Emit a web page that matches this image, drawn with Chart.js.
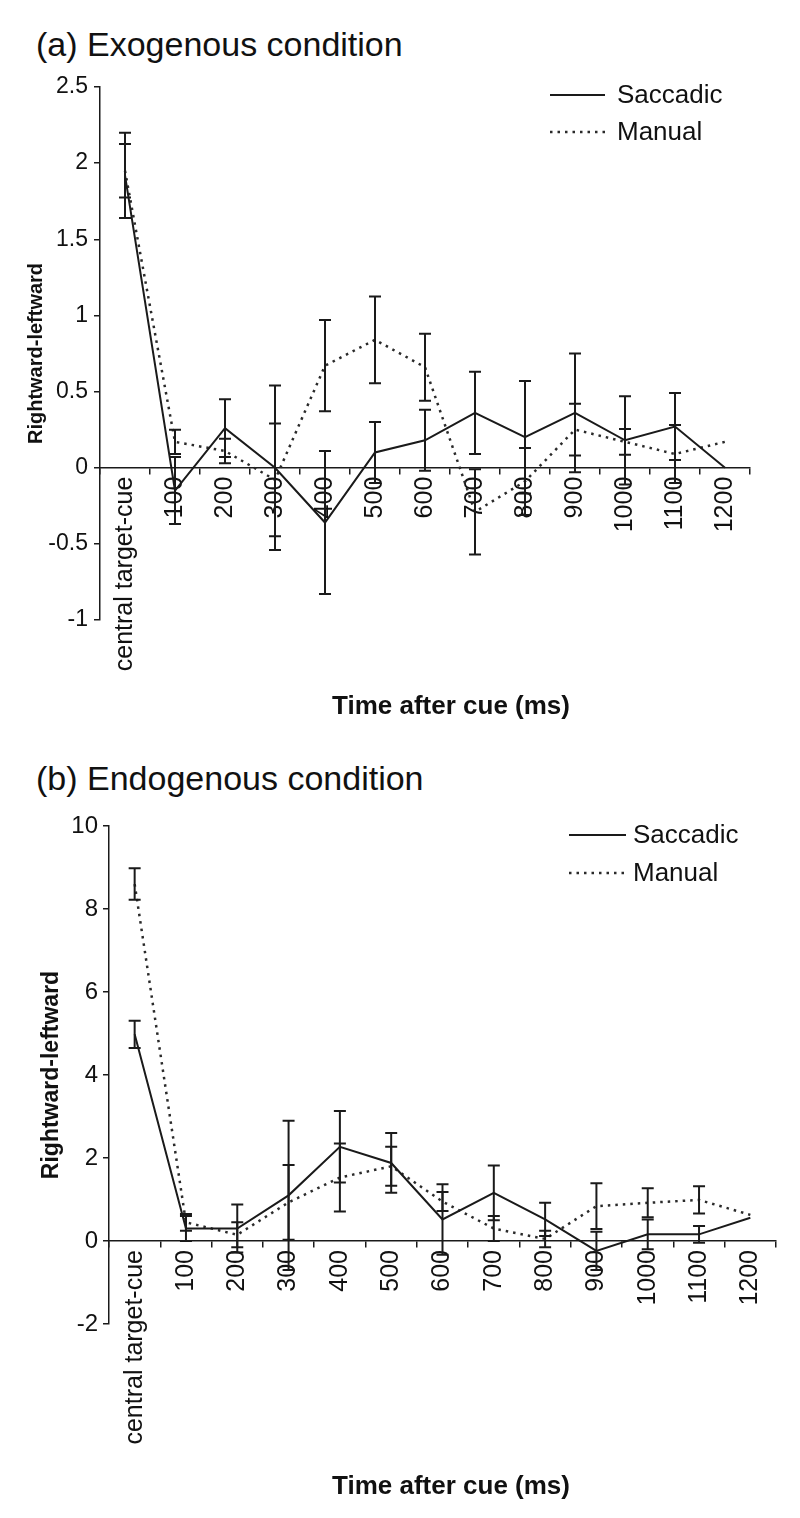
<!DOCTYPE html>
<html>
<head>
<meta charset="utf-8">
<script src="https://cdn.jsdelivr.net/npm/chart.js@4.4.1/dist/chart.umd.min.js"></script>
<style>
  body { margin: 0; background: #fff; width: 800px; height: 1518px; position: relative; overflow: hidden;
         font-family: "Liberation Sans", Arial, sans-serif; color: #111; }
  .panel-title { position: absolute; left: 36px; font-size: 34px; line-height: 1; white-space: nowrap; }
  .x-title { position: absolute; left: 451px; transform: translateX(-50%); font-size: 26px; font-weight: bold;
             line-height: 1; white-space: nowrap; }
  .box { position: absolute; left: 0; width: 800px; }
</style>
</head>
<body>

<div class="panel-title" style="top:27px">(a) Exogenous condition</div>
<div class="box" style="top:60px; height:660px"><canvas id="chartA"></canvas></div>
<div class="x-title" style="top:692px">Time after cue (ms)</div>

<div class="panel-title" style="top:761px">(b) Endogenous condition</div>
<div class="box" style="top:800px; height:680px"><canvas id="chartB"></canvas></div>
<div class="x-title" style="top:1472px">Time after cue (ms)</div>

<script>
/* ── DATA ── */
const categories = ['central target-cue', '100', '200', '300', '400', '500', '600',
    '700', '800', '900', '1000', '1100', '1200'];
const seriesNames = ['Saccadic', 'Manual'];

// (a) exogenous
const exoSaccadic    = [1.92, -0.15, 0.26, 0, -0.36, 0.10, 0.18, 0.36, 0.20, 0.36, 0.18, 0.27, 0];
const exoSaccadicErr = [0.28, 0.22, 0.19, 0.54, 0.47, 0.20, 0.20, 0.27, 0.37, 0.39, 0.29, 0.22, null];
const exoManual      = [1.95, 0.17, 0.11, -0.08, 0.67, 0.84, 0.66, -0.29, -0.09, 0.25, 0.17, 0.09, 0.17];
const exoManualErr   = [0.175, 0.08, 0.08, 0.37, 0.30, 0.285, 0.22, 0.28, 0.22, 0.17, 0.085, 0.19, null];
const exoTicks = [-1, -0.5, 0, 0.5, 1, 1.5, 2, 2.5];

// (b) endogenous
const endoSaccadic    = [4.98, 0.30, 0.30, 1.10, 2.27, 1.88, 0.52, 1.16, 0.52, -0.24, 0.16, 0.16, 0.56];
const endoSaccadicErr = [0.33, 0.30, 0.58, 1.80, 0.86, 0.72, 0.85, 0.66, 0.40, 0.46, 0.36, 0.20, null];
const endoManual      = [8.60, 0.45, 0.15, 0.93, 1.53, 1.80, 0.95, 0.30, 0.05, 0.84, 0.92, 0.99, 0.63];
const endoManualErr   = [0.38, 0.20, 0.30, 0.90, 0.82, 0.47, 0.23, 0.30, 0.20, 0.55, 0.35, 0.33, null];
const endoTicks = [-2, 0, 2, 4, 6, 8, 10];

/* ── PLUGINS ── */
const ink = '#1a1a1a';

// vertical error bars with caps, drawn from the y scale
const errorBars = {
    id: 'errorBars',
    afterDatasetsDraw(chart) {
        const { ctx, scales: { x, y } } = chart;
        ctx.save();
        ctx.strokeStyle = ink;
        ctx.lineWidth = 2;
        ctx.setLineDash([]);
        chart.data.datasets.forEach(ds => {
            (ds.errors || []).forEach((e, i) => {
                if (e == null) return;
                const px = x.getPixelForValue(i);
                const top = y.getPixelForValue(ds.data[i] + e);
                const bot = y.getPixelForValue(ds.data[i] - e);
                ctx.beginPath();
                ctx.moveTo(px, top); ctx.lineTo(px, bot);
                ctx.moveTo(px - 6, top); ctx.lineTo(px + 6, top);
                ctx.moveTo(px - 6, bot); ctx.lineTo(px + 6, bot);
                ctx.stroke();
            });
        });
        ctx.restore();
    }
};

// legend in the upper right corner of the plot
const cornerLegend = {
    id: 'cornerLegend',
    afterDraw(chart, args, opts) {
        const ctx = chart.ctx;
        ctx.save();
        ctx.font = opts.fontSpec;
        ctx.textBaseline = 'middle';
        ctx.fillStyle = '#111';
        chart.data.datasets.forEach((ds, i) => {
            const y = opts.y + i * opts.gap;
            ctx.strokeStyle = ds.borderColor;
            ctx.lineWidth = ds.borderWidth;
            ctx.setLineDash(ds.borderDash || []);
            ctx.beginPath();
            ctx.moveTo(opts.x, y);
            ctx.lineTo(opts.x + opts.len, y);
            ctx.stroke();
            ctx.setLineDash([]);
            ctx.fillText(ds.label, opts.x + opts.len + opts.textGap, y + 1);
        });
        ctx.restore();
    }
};

Chart.defaults.font.family = '"Liberation Sans", Arial, sans-serif';
Chart.defaults.color = '#111';

/* ── CHART BUILDER ── */
function makeChart(id, p) {
    return new Chart(document.getElementById(id), {
        type: 'line',
        data: {
            labels: categories,
            datasets: [{
                label: seriesNames[0],
                data: p.saccadic,
                errors: p.saccadicErr,
                borderColor: ink,
                borderWidth: 2,
                pointRadius: 0,
                tension: 0
            }, {
                label: seriesNames[1],
                data: p.manual,
                errors: p.manualErr,
                borderColor: '#2a2a2a',
                borderWidth: 2.5,
                borderDash: [2.5, 5],
                pointRadius: 0,
                tension: 0
            }]
        },
        options: {
            responsive: true,
            maintainAspectRatio: false,
            animation: false,
            layout: { padding: p.padding },
            plugins: {
                legend: { display: false },
                tooltip: { enabled: false },
                cornerLegend: p.legend
            },
            scales: {
                x: {
                    type: 'category',
                    position: { y: 0 },
                    offset: true,
                    grid: { offset: true, drawOnChartArea: false, tickLength: 6, color: ink, lineWidth: 1.5 },
                    border: { display: true, color: ink, width: 1.5 },
                    ticks: { autoSkip: false, minRotation: 90, maxRotation: 90, padding: 3, font: { size: 25 } },
                    afterFit(s) { s.height = 0; }
                },
                y: {
                    min: p.ticks[0],
                    max: p.ticks[p.ticks.length - 1],
                    afterBuildTicks(s) { s.ticks = p.ticks.map(v => ({ value: v })); },
                    ticks: { callback: v => String(v), padding: p.tickPad, font: { size: p.tickSize } },
                    grid: { drawOnChartArea: false, tickLength: 6, color: ink, lineWidth: 1.5 },
                    border: { color: ink, width: 1.5 },
                    title: {
                        display: true,
                        text: 'Rightward-leftward',
                        font: { size: p.titleSize, weight: 'bold' },
                        padding: { top: p.titlePad, bottom: 0 }
                    },
                    afterFit(s) { s.width = p.axisLeft; }
                }
            }
        },
        plugins: [errorBars, cornerLegend]
    });
}

makeChart('chartA', {
    saccadic: exoSaccadic, saccadicErr: exoSaccadicErr,
    manual: exoManual, manualErr: exoManualErr,
    ticks: exoTicks,
    axisLeft: 100, tickSize: 23, tickPad: 6, titleSize: 20, titlePad: 24,
    padding: { left: 0, top: 27, right: 50, bottom: 100 },
    legend: { x: 550, y: 35, len: 55, gap: 37, textGap: 12, fontSpec: '26px "Liberation Sans", Arial, sans-serif' }
});

makeChart('chartB', {
    saccadic: endoSaccadic, saccadicErr: endoSaccadicErr,
    manual: endoManual, manualErr: endoManualErr,
    ticks: endoTicks,
    axisLeft: 109, tickSize: 24, tickPad: 5, titleSize: 23, titlePad: 38,
    padding: { left: 0, top: 26, right: 24, bottom: 156 },
    legend: { x: 569, y: 35, len: 57, gap: 38, textGap: 7, fontSpec: '26px "Liberation Sans", Arial, sans-serif' }
});
</script>
</body>
</html>
